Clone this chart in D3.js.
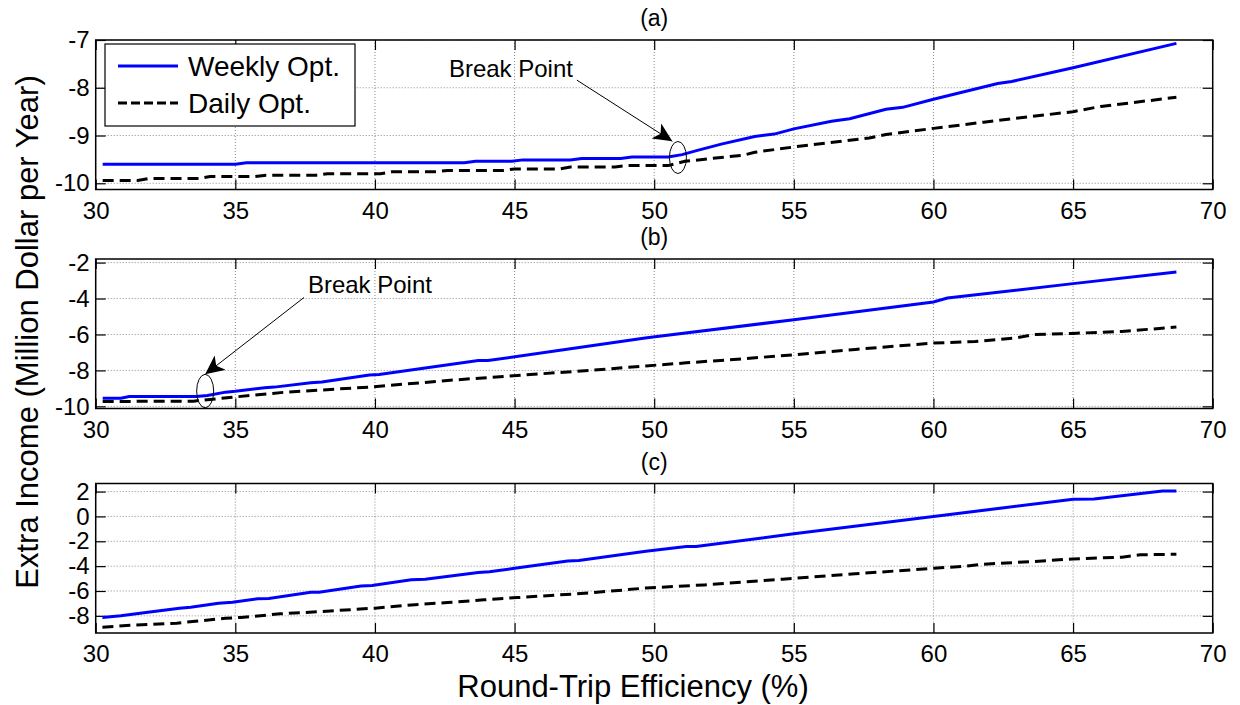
<!DOCTYPE html>
<html>
<head>
<meta charset="utf-8">
<script src="https://cdn.jsdelivr.net/npm/d3@7"></script>
<style>
  body { margin: 0; background: #fff; }
  svg { font-family: "Liberation Sans", Arial, Helvetica, sans-serif; }
</style>
</head>
<body>
<svg id="chart" width="1240" height="705"></svg>
<script>
// ---- data ----
const xTicks = [30, 35, 40, 45, 50, 55, 60, 65, 70];
const yTicksA = [-10, -9, -8, -7];
const yTicksB = [-10, -8, -6, -4, -2];
const yTicksC = [-8, -6, -4, -2, 0, 2];
const panelTitles = ['(a)', '(b)', '(c)'];
const seriesNames = ['Weekly Opt.', 'Daily Opt.'];

// (a)
const weeklyAx = [30.25, 35.0, 35.4, 43.2, 43.6, 44.9, 45.3, 47.0, 47.4, 48.8, 49.2, 50.5, 51.0, 51.55, 52.4, 53.6, 54.3, 55.0, 56.35, 57.0, 58.3, 58.9, 60.0, 62.3, 62.8, 65.0, 68.7];
const weeklyAy = [-9.60, -9.60, -9.57, -9.57, -9.54, -9.54, -9.51, -9.51, -9.48, -9.48, -9.45, -9.45, -9.40, -9.31, -9.18, -9.02, -8.97, -8.86, -8.70, -8.65, -8.45, -8.41, -8.24, -7.91, -7.87, -7.58, -7.07];
const dailyAx = [30.25, 31.5, 31.9, 33.7, 34.1, 35.7, 36.1, 37.9, 38.3, 40.2, 40.6, 42.2, 42.6, 44.6, 45.0, 46.6, 47.0, 48.6, 49.0, 50.5, 51.1, 53.2, 53.6, 55.0, 57.7, 58.3, 60.0, 61.8, 65.0, 66.0, 68.7];
const dailyAy = [-9.94, -9.94, -9.90, -9.90, -9.86, -9.86, -9.83, -9.83, -9.80, -9.80, -9.76, -9.76, -9.73, -9.73, -9.70, -9.70, -9.66, -9.66, -9.63, -9.63, -9.54, -9.41, -9.35, -9.24, -9.05, -8.98, -8.85, -8.72, -8.50, -8.39, -8.20];

// (b)
const weeklyBx = [30.25, 30.9, 31.2, 33.6, 34.0, 34.65, 35.0, 36.05, 36.4, 37.7, 38.1, 39.8, 40.15, 43.7, 44.05, 47.0, 49.74, 55.0, 60.0, 60.5, 65.0, 68.7];
const weeklyBy = [-9.55, -9.55, -9.45, -9.45, -9.40, -9.21, -9.16, -8.97, -8.93, -8.69, -8.65, -8.25, -8.23, -7.45, -7.45, -6.80, -6.18, -5.18, -4.19, -3.97, -3.17, -2.52];
const dailyBx = [30.25, 33.5, 34.9, 36.8, 39.8, 42.6, 45.1, 47.7, 49.7, 51.15, 53.2, 55.0, 57.2, 60.0, 61.5, 62.9, 63.6, 65.0, 66.75, 68.7];
const dailyBy = [-9.73, -9.71, -9.49, -9.21, -8.93, -8.56, -8.28, -8.00, -7.75, -7.58, -7.35, -7.13, -6.83, -6.48, -6.39, -6.20, -6.01, -5.94, -5.83, -5.59];

// (c)
const weeklyCx = [30.24, 30.9, 31.8, 33.0, 33.4, 34.4, 34.9, 35.8, 36.2, 37.7, 38.0, 39.5, 39.9, 41.3, 41.8, 43.7, 44.1, 45.0, 46.9, 47.3, 49.7, 51.15, 51.5, 55.0, 60.0, 65.0, 65.75, 68.2, 68.7];
const weeklyCy = [-8.13, -8.00, -7.73, -7.38, -7.30, -6.98, -6.90, -6.63, -6.61, -6.10, -6.10, -5.59, -5.56, -5.10, -5.05, -4.51, -4.46, -4.17, -3.58, -3.55, -2.80, -2.42, -2.42, -1.40, 0.00, 1.38, 1.41, 2.05, 2.05];
const dailyCx = [30.24, 31.1, 32.9, 34.65, 35.2, 36.6, 38.1, 40.0, 41.3, 42.6, 43.9, 45.1, 47.2, 48.3, 49.7, 51.8, 54.6, 57.2, 60.0, 61.0, 61.8, 63.6, 65.0, 66.75, 67.4, 68.7];
const dailyCy = [-8.91, -8.78, -8.59, -8.19, -8.13, -7.84, -7.65, -7.38, -7.12, -6.93, -6.71, -6.53, -6.23, -6.04, -5.76, -5.51, -5.05, -4.62, -4.17, -4.03, -3.84, -3.63, -3.42, -3.28, -3.09, -3.04];

// break point annotations (data coords of label, arrow tail/head, ellipse)
const breakA = { text: [44.87, -7.59], tail: [47.23, -7.84], head: [50.65, -9.12], ring: [50.85, -9.46], ry: 16 };
const breakB = { text: [39.82, -3.25], tail: [37.46, -3.94], head: [33.92, -8.22], ring: [33.92, -9.15], ry: 16.7 };

// ---- layout ----
const svg = d3.select('#chart');
const left = 95.7, right = 1212.7, ph = 149.5;
const tops = [40, 259, 483.5];
const yDomains = [[-10.13, -7], [-10.12, -1.8], [-9.38, 2.65]];
const yTicks = [yTicksA, yTicksB, yTicksC];
const weekly = [[weeklyAx, weeklyAy], [weeklyBx, weeklyBy], [weeklyCx, weeklyCy]];
const daily = [[dailyAx, dailyAy], [dailyBx, dailyBy], [dailyCx, dailyCy]];
const notes = [breakA, breakB, null];

const x = d3.scaleLinear().domain([30, 70]).range([left, right]);

svg.append('defs').append('marker')
    .attr('id', 'head')
    .attr('markerUnits', 'userSpaceOnUse')
    .attr('markerWidth', 22).attr('markerHeight', 20)
    .attr('refX', 19).attr('refY', 9)
    .attr('orient', 'auto')
  .append('path')
    .attr('d', 'M19,9 L0,0 L5,9 L0,18 Z')
    .attr('fill', '#000');

tops.forEach(function(top, i) {
  let y = d3.scaleLinear().domain(yDomains[i]).range([top + ph, top]);
  let g = svg.append('g');

  // grid
  g.append('g').selectAll('line').data(xTicks).enter().append('line')
      .attr('x1', d => x(d)).attr('x2', d => x(d))
      .attr('y1', top).attr('y2', top + ph)
      .attr('stroke', '#8a8a8a').attr('stroke-width', 1).attr('stroke-dasharray', '1,2');
  g.append('g').selectAll('line').data(yTicks[i]).enter().append('line')
      .attr('x1', left).attr('x2', right)
      .attr('y1', d => y(d)).attr('y2', d => y(d))
      .attr('stroke', '#8a8a8a').attr('stroke-width', 1).attr('stroke-dasharray', '1,2');

  // axes: inward ticks on all four sides
  g.append('g').attr('transform', 'translate(0,' + (top + ph) + ')')
      .call(d3.axisBottom(x).tickValues(xTicks).tickSize(-10).tickPadding(12));
  let leftAx = g.append('g').attr('transform', 'translate(' + left + ',0)')
      .call(d3.axisLeft(y).tickValues(yTicks[i]).tickSize(-10).tickPadding(6).tickFormat(d3.format('d')));
  g.append('g').attr('transform', 'translate(0,' + top + ')')
      .call(d3.axisTop(x).tickValues(xTicks).tickSize(-10).tickFormat(''));
  g.append('g').attr('transform', 'translate(' + right + ',0)')
      .call(d3.axisRight(y).tickValues(yTicks[i]).tickSize(-10).tickFormat(''));
  g.selectAll('.domain').remove();
  g.selectAll('.tick line').attr('stroke', '#000').attr('stroke-width', 1.2);
  g.selectAll('.tick text').attr('font-size', 24).attr('fill', '#000')
      .attr('font-family', '"Liberation Sans", Arial, sans-serif');
  leftAx.selectAll('.tick text').text(d => d < 0 ? '-' + Math.abs(d) : d);

  // series
  let line = d3.line().x(d => x(d[0])).y(d => y(d[1]));
  g.append('path')
      .datum(d3.zip(daily[i][0], daily[i][1]))
      .attr('d', line).attr('fill', 'none')
      .attr('stroke', '#000').attr('stroke-width', 3).attr('stroke-dasharray', '11,6');
  g.append('path')
      .datum(d3.zip(weekly[i][0], weekly[i][1]))
      .attr('d', line).attr('fill', 'none')
      .attr('stroke', '#0000ff').attr('stroke-width', 3);

  // box
  g.append('rect')
      .attr('x', left).attr('y', top).attr('width', right - left).attr('height', ph)
      .attr('fill', 'none').attr('stroke', '#000').attr('stroke-width', 1.5);

  // title
  svg.append('text')
      .attr('x', (left + right) / 2).attr('y', top - 14)
      .attr('text-anchor', 'middle').attr('font-size', 23)
      .text(panelTitles[i]);

  // break point annotation
  let n = notes[i];
  if (n) {
    g.append('text')
        .attr('x', x(n.text[0])).attr('y', y(n.text[1]))
        .attr('dy', '0.35em').attr('text-anchor', 'middle')
        .attr('font-size', 24).text('Break Point');
    g.append('line')
        .attr('x1', x(n.tail[0])).attr('y1', y(n.tail[1]))
        .attr('x2', x(n.head[0])).attr('y2', y(n.head[1]))
        .attr('stroke', '#000').attr('stroke-width', 1)
        .attr('marker-end', 'url(#head)');
    g.append('ellipse')
        .attr('cx', x(n.ring[0])).attr('cy', y(n.ring[1]))
        .attr('rx', 8.5).attr('ry', n.ry)
        .attr('fill', 'none').attr('stroke', '#000').attr('stroke-width', 1);
  }

  // legend in (a)
  if (i === 0) {
    let lg = svg.append('g');
    lg.append('rect')
        .attr('x', 105).attr('y', 44).attr('width', 250).attr('height', 82)
        .attr('fill', '#fff').attr('stroke', '#000').attr('stroke-width', 1.2);
    seriesNames.forEach(function(name, k) {
      let ly = 66 + k * 37;
      lg.append('line')
          .attr('x1', 118).attr('x2', 178).attr('y1', ly).attr('y2', ly)
          .attr('stroke', k === 0 ? '#0000ff' : '#000').attr('stroke-width', 3)
          .attr('stroke-dasharray', k === 0 ? null : '9,4');
      lg.append('text')
          .attr('x', 188).attr('y', ly).attr('dy', '0.35em')
          .attr('font-size', 28).text(name);
    });
  }
});

// axis labels
svg.append('text')
    .attr('transform', 'translate(27,332) rotate(-90)')
    .attr('text-anchor', 'middle').attr('dy', '0.35em')
    .attr('font-size', 31)
    .text('Extra Income (Million Dollar per Year)');
svg.append('text')
    .attr('x', 633).attr('y', 697)
    .attr('text-anchor', 'middle')
    .attr('font-size', 31)
    .text('Round-Trip Efficiency (%)');
</script>
</body>
</html>
